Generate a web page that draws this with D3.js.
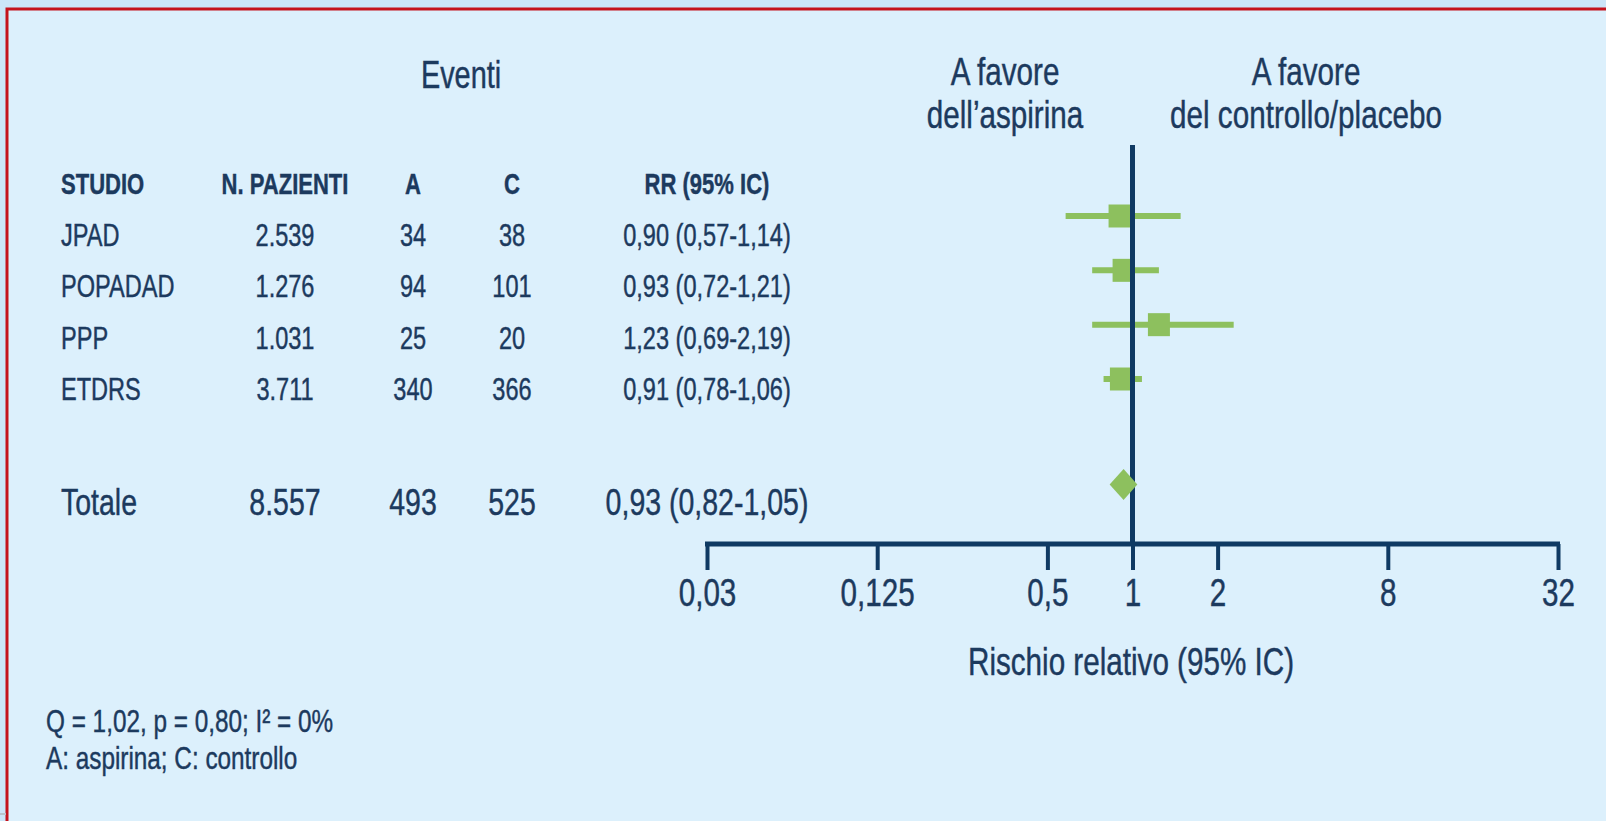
<!DOCTYPE html>
<html>
<head>
<meta charset="utf-8">
<script src="https://cdn.jsdelivr.net/npm/d3@7"></script>
<style>
  html, body { margin: 0; padding: 0; background: #cde6f8; }
  svg { display: block; }
  text { font-family: "Liberation Sans", Arial, sans-serif; fill: #1c3a5e; stroke: #1c3a5e; stroke-width: 0.45px; }
</style>
</head>
<body>
<svg id="chart" width="1606" height="821"></svg>
<script>
// ---------- data ----------
const studies   = ["JPAD", "POPADAD", "PPP", "ETDRS"];
const patients  = ["2.539", "1.276", "1.031", "3.711"];
const eventsA   = [34, 94, 25, 340];
const eventsC   = [38, 101, 20, 366];
const rrLabels  = ["0,90 (0,57-1,14)", "0,93 (0,72-1,21)", "1,23 (0,69-2,19)", "0,91 (0,78-1,06)"];
// marker values as drawn in the picture
const rr        = [0.90, 0.93, 1.24, 0.91];
const ciLow     = [0.58, 0.72, 0.72, 0.79];
const ciHigh    = [1.48, 1.24, 2.28, 1.08];

const totalLabel    = "Totale";
const totalPatients = "8.557";
const totalA        = 493;
const totalC        = 525;
const totalRRLabel  = "0,93 (0,82-1,05)";
const totalRR       = 0.93;
const totalLow      = 0.83;
const totalHigh     = 1.04;

const tickValues = [0.03125, 0.125, 0.5, 1, 2, 8, 32];
const tickLabels = ["0,03", "0,125", "0,5", "1", "2", "8", "32"];

const columnHeaders = ["STUDIO", "N. PAZIENTI", "A", "C", "RR (95% IC)"];

// ---------- layout ----------
const svg = d3.select("#chart");
const navy = "#0f3a63";
const green = "#8dc05e";
const SX = 0.76;   // horizontal condensing of the font

function label(parent, x, y, txt, size, anchor, weight) {
  return parent.append("text")
    .attr("transform", `translate(${x},${y}) scale(${SX},1)`)
    .attr("text-anchor", anchor || "start")
    .style("font-size", size + "px")
    .style("font-weight", weight || "normal")
    .text(txt);
}

// background panel and red frame
svg.append("rect").attr("x", 0).attr("y", 0).attr("width", 1606).attr("height", 821).attr("fill", "#cbe5f8");
svg.append("rect").attr("x", 7).attr("y", 9).attr("width", 1620).attr("height", 840)
  .attr("fill", "#dcf0fc").attr("stroke", "#c4121c").attr("stroke-width", 3);
svg.append("line").attr("x1", 0).attr("x2", 6).attr("y1", 814).attr("y2", 814)
  .attr("stroke", "#b9c3cc").attr("stroke-width", 2);

const colX = d3.scaleOrdinal().domain(columnHeaders).range([61, 285, 413, 512, 707]);
const colAnchor = d => d === "STUDIO" ? "start" : "middle";

const x = d3.scaleLog().base(2).domain([1 / 32, 32]).range([707, 1558]);
const rowText = d3.scalePoint().domain(studies).range([235, 389]);   // text centres
const rowMark = d3.scalePoint().domain(studies).range([216, 379]);   // marker centres
const totalTextY = 501, totalMarkY = 484.5;
const axisY = 544;

// headers
label(svg, 461, 88, "Eventi", 38, "middle");
label(svg, 1005, 85, "A favore", 39, "middle");
label(svg, 1005, 128, "dell\u2019aspirina", 39, "middle");
label(svg, 1306, 85, "A favore", 39, "middle");
label(svg, 1306, 128, "del controllo/placebo", 39, "middle");

const hdrG = svg.append("g");
columnHeaders.forEach(h => label(hdrG, colX(h), 193.5, h, 29, colAnchor(h), "bold"));

// study rows
const rowsG = svg.append("g");
studies.forEach((s, i) => {
  const cells = [s, patients[i], eventsA[i], eventsC[i], rrLabels[i]];
  cells.forEach((c, j) => label(rowsG, colX(columnHeaders[j]), rowText(s) + 11, c, 31, colAnchor(columnHeaders[j])));
});

// totale row
const totG = svg.append("g");
[totalLabel, totalPatients, totalA, totalC, totalRRLabel].forEach((c, j) =>
  label(totG, colX(columnHeaders[j]), totalTextY + 13.5, c, 37.5, colAnchor(columnHeaders[j])));

// CI lines
const marks = studies.map((s, i) => ({ s, rr: rr[i], lo: ciLow[i], hi: ciHigh[i] }));
svg.append("g").selectAll("line").data(marks).join("line")
  .attr("x1", d => x(d.lo)).attr("x2", d => x(d.hi))
  .attr("y1", d => rowMark(d.s)).attr("y2", d => rowMark(d.s))
  .attr("stroke", green).attr("stroke-width", 6);

// squares
const sqW = 22, sqH = 23;
svg.append("g").selectAll("rect").data(marks).join("rect")
  .attr("x", d => x(d.rr) - sqW / 2).attr("y", d => rowMark(d.s) - sqH / 2)
  .attr("width", sqW).attr("height", sqH)
  .attr("fill", green);

// reference line at RR = 1 (drawn above the markers, as in the original)
svg.append("line").attr("x1", x(1)).attr("x2", x(1)).attr("y1", 145).attr("y2", axisY)
  .attr("stroke", navy).attr("stroke-width", 5);

// diamond for total
const dh = 15.5;
svg.append("path")
  .attr("d", `M${x(totalLow)},${totalMarkY} L${x(totalRR)},${totalMarkY - dh} L${x(totalHigh)},${totalMarkY} L${x(totalRR)},${totalMarkY + dh} Z`)
  .attr("fill", green);

// axis
const axis = d3.axisBottom(x).tickValues(tickValues)
  .tickFormat((d, i) => tickLabels[i]).tickSize(26).tickSizeOuter(0);
const ag = svg.append("g").attr("transform", `translate(0,${axisY})`).call(axis);
ag.attr("font-family", null).attr("font-size", null);
ag.select(".domain").attr("stroke", navy).attr("stroke-width", 5).attr("d", `M${x(1/32) - 2},0H${x(32) + 2}`);
ag.selectAll(".tick line").attr("stroke", navy).attr("stroke-width", 4);
ag.selectAll(".tick text")
  .attr("fill", "#1c3a5e").attr("dy", null).attr("y", 0).attr("x", 0)
  .attr("transform", `translate(0,62) scale(${SX},1)`)
  .style("font-size", "39px");

label(svg, 1131, 675, "Rischio relativo (95% IC)", 39, "middle");

// footnotes
label(svg, 46, 732, "Q = 1,02, p = 0,80; I\u00B2 = 0%", 32, "start");
label(svg, 46, 769, "A: aspirina; C: controllo", 32, "start");
</script>
</body>
</html>
